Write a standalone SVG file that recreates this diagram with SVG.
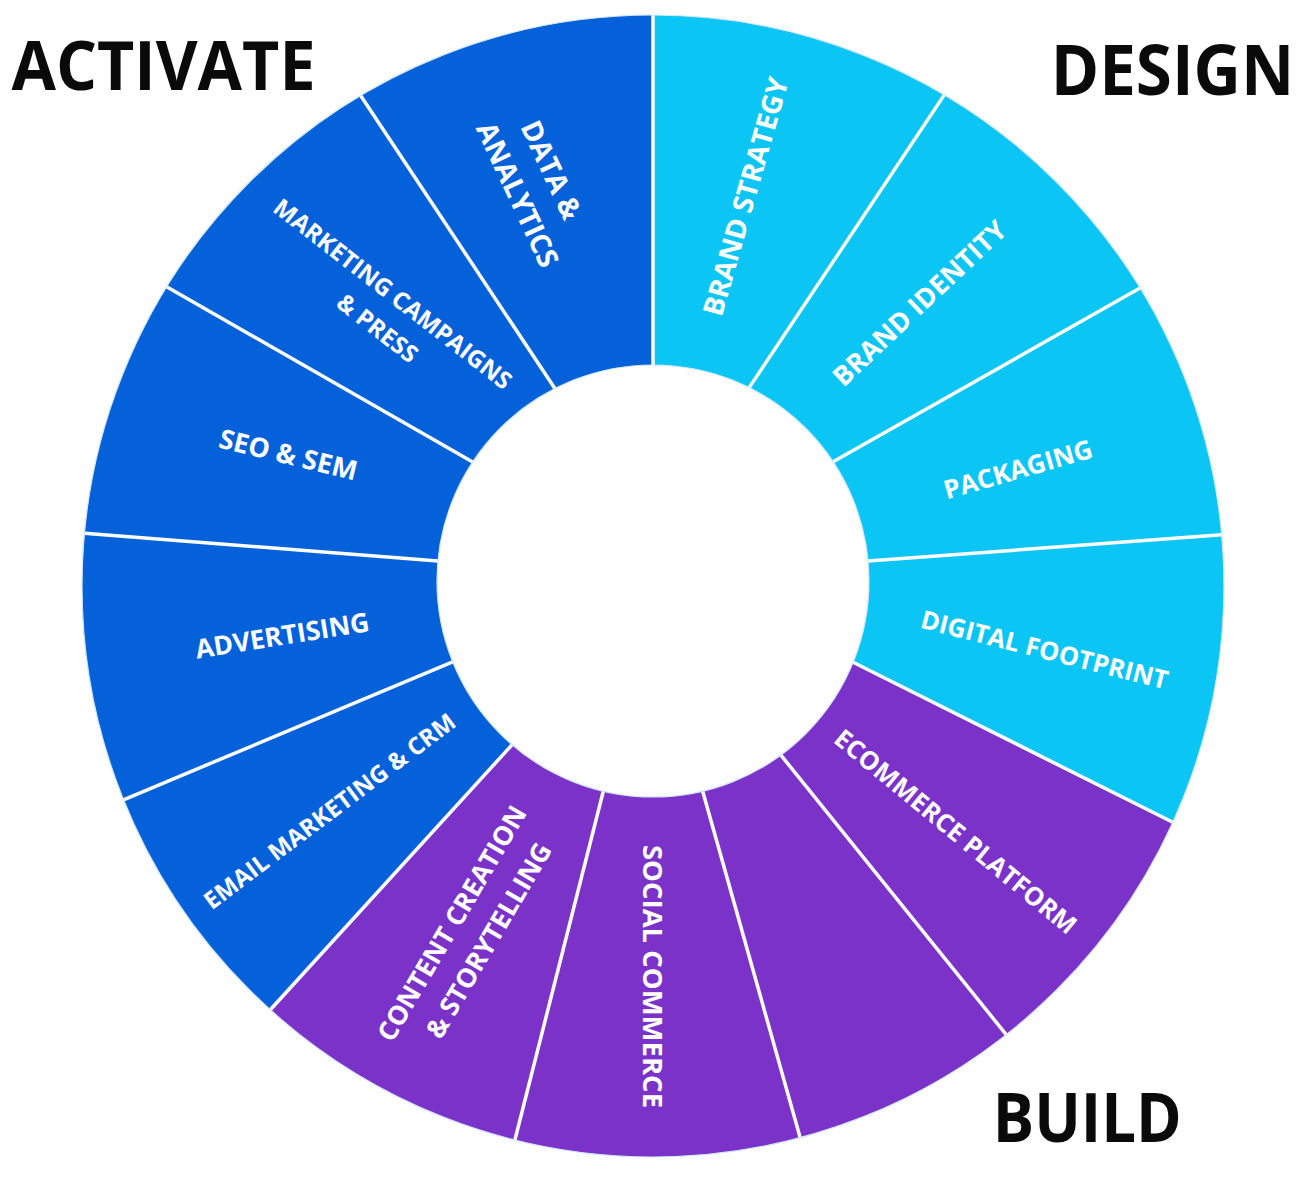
<svg xmlns="http://www.w3.org/2000/svg" width="1309" height="1201" viewBox="0 0 1309 1201">
<style>
.cy{fill:#0BC6F4}
.bl{fill:#0461D9}
.pu{fill:#7B32C9}
.sep line{stroke:#ffffff;stroke-width:3.5}
.lbl{fill:#ffffff;font-family:"Open Sans","Noto Sans","DejaVu Sans",sans-serif;font-weight:700;text-anchor:middle}
.head{fill:#0a0a0a;font-family:"Open Sans","Noto Sans","DejaVu Sans",sans-serif;font-weight:700}
</style>
<rect width="1309" height="1201" fill="#ffffff"/>
<g id="heading-activate"><text class="head" x="11.5" y="90" font-size="68" textLength="304" lengthAdjust="spacingAndGlyphs">ACTIVATE</text></g>
<g id="heading-design"><text class="head" x="1050.7" y="95" font-size="70" textLength="243.6" lengthAdjust="spacingAndGlyphs">DESIGN</text></g>
<g id="heading-build"><text class="head" x="992.7" y="1141.7" font-size="68" textLength="189" lengthAdjust="spacingAndGlyphs">BUILD</text></g>

<g id="brand-strategy"><path class="cy" d="M653 365 L653 15 A571 571 0 0 1 944.3 94.9 L749.2 387.6 A216 216 0 0 0 653 365 Z"/>
<text class="lbl" font-size="28" transform="translate(745.5,196.5) rotate(-74.2)" y="10">BRAND STRATEGY</text></g>
<g id="brand-identity"><path class="cy" d="M749.2 387.6 L944.3 94.9 A571 571 0 0 1 1140.1 288.1 L833.1 461.8 A216 216 0 0 0 749.2 387.6 Z"/>
<text class="lbl" font-size="27" transform="translate(919.3,303.2) rotate(-43.3)" y="9.7">BRAND IDENTITY</text></g>
<g id="packaging"><path class="cy" d="M833.1 461.8 L1140.1 288.1 A571 571 0 0 1 1221.7 534.8 L868.1 561 A216 216 0 0 0 833.1 461.8 Z"/>
<text class="lbl" font-size="26" transform="translate(1018,469.2) rotate(-16)" y="9.4">PACKAGING</text></g>
<g id="digital-footprint"><path class="cy" d="M868.1 561 L1221.7 534.8 A571 571 0 0 1 1172.8 822.3 L853.1 662.3 A216 216 0 0 0 868.1 561 Z"/>
<text class="lbl" font-size="25.5" transform="translate(1044.6,649.6) rotate(14.1)" y="9.2">DIGITAL FOOTPRINT</text></g>
<g id="ecommerce-platform"><path class="pu" d="M853.1 662.3 L1172.8 822.3 A571 571 0 0 1 1006.2 1034.6 L780.9 755.1 A216 216 0 0 0 853.1 662.3 Z"/>
<text class="lbl" font-size="25.5" transform="translate(955.8,831.5) rotate(39.5)" y="9.2">ECOMMERCE PLATFORM</text></g>
<g id="build-blank"><path class="pu" d="M780.9 755.1 L1006.2 1034.6 A571 571 0 0 1 800.2 1137.7 L702.7 791.2 A216 216 0 0 0 780.9 755.1 Z"/></g>
<g id="social-commerce"><path class="pu" d="M702.7 791.2 L800.2 1137.7 A571 571 0 0 1 514.9 1140 L603.3 791.2 A216 216 0 0 0 702.7 791.2 Z"/>
<text class="lbl" font-size="27.5" transform="translate(653,976.5) rotate(90)" y="9.9">SOCIAL COMMERCE</text></g>
<g id="content-creation"><path class="pu" d="M603.3 791.2 L514.9 1140 A571 571 0 0 1 270.3 1009.7 L512.1 744.7 A216 216 0 0 0 603.3 791.2 Z"/>
<text class="lbl" font-size="26.5" transform="translate(451.7,923.3) rotate(-59.6)"><tspan x="0" y="9.5">CONTENT CREATION</tspan><tspan x="4" y="49.9">&amp; STORYTELLING</tspan></text></g>
<g id="email-marketing"><path class="bl" d="M512.1 744.7 L270.3 1009.7 A571 571 0 0 1 123.5 799.8 L452.7 661.9 A216 216 0 0 0 512.1 744.7 Z"/>
<text class="lbl" font-size="24" transform="translate(329.5,811) rotate(-37)" y="8.6">EMAIL MARKETING &amp; CRM</text></g>
<g id="advertising"><path class="bl" d="M452.7 661.9 L123.5 799.8 A571 571 0 0 1 84.5 533.2 L437.9 561 A216 216 0 0 0 452.7 661.9 Z"/>
<text class="lbl" font-size="26.5" transform="translate(282.2,635.4) rotate(-9.1)" y="9.5">ADVERTISING</text></g>
<g id="seo-sem"><path class="bl" d="M437.9 561 L84.5 533.2 A571 571 0 0 1 166.6 286.8 L472.7 462.1 A216 216 0 0 0 437.9 561 Z"/>
<text class="lbl" font-size="27" transform="translate(288.3,454.4) rotate(13.6)" y="9.7">SEO &amp; SEM</text></g>
<g id="marketing-campaigns"><path class="bl" d="M472.7 462.1 L166.6 286.8 A571 571 0 0 1 360.6 95.5 L554.9 388.5 A216 216 0 0 0 472.7 462.1 Z"/>
<text class="lbl" font-size="24" transform="translate(392.8,293.8) rotate(37.8)"><tspan x="0" y="8.6">MARKETING CAMPAIGNS</tspan><tspan x="9" y="45.1">&amp; PRESS</tspan></text></g>
<g id="data-analytics"><path class="bl" d="M554.9 388.5 L360.6 95.5 A571 571 0 0 1 653 15 L653 365 A216 216 0 0 0 554.9 388.5 Z"/>
<text class="lbl" font-size="28.5" transform="translate(551.5,170) rotate(65)"><tspan x="0" y="10.2">DATA &amp;</tspan><tspan x="8" y="51.2">ANALYTICS</tspan></text></g>

<g id="connectors" class="sep">
<line x1="653" y1="365" x2="653" y2="15"/>
<line x1="749.2" y1="387.6" x2="944.3" y2="94.9"/>
<line x1="833.1" y1="461.8" x2="1140.1" y2="288.1"/>
<line x1="868.1" y1="561" x2="1221.7" y2="534.8"/>
<line x1="853.1" y1="662.3" x2="1172.8" y2="822.3"/>
<line x1="780.9" y1="755.1" x2="1006.2" y2="1034.6"/>
<line x1="702.7" y1="791.2" x2="800.2" y2="1137.7"/>
<line x1="603.3" y1="791.2" x2="514.9" y2="1140"/>
<line x1="512.1" y1="744.7" x2="270.3" y2="1009.7"/>
<line x1="452.7" y1="661.9" x2="123.5" y2="799.8"/>
<line x1="437.9" y1="561" x2="84.5" y2="533.2"/>
<line x1="472.7" y1="462.1" x2="166.6" y2="286.8"/>
<line x1="554.9" y1="388.5" x2="360.6" y2="95.5"/>
</g>
<g id="rims" fill="none" stroke="#d3e7f9" stroke-width="1.2">
<circle cx="653" cy="586" r="571"/>
<circle cx="653" cy="581" r="216"/>
</g>
</svg>
